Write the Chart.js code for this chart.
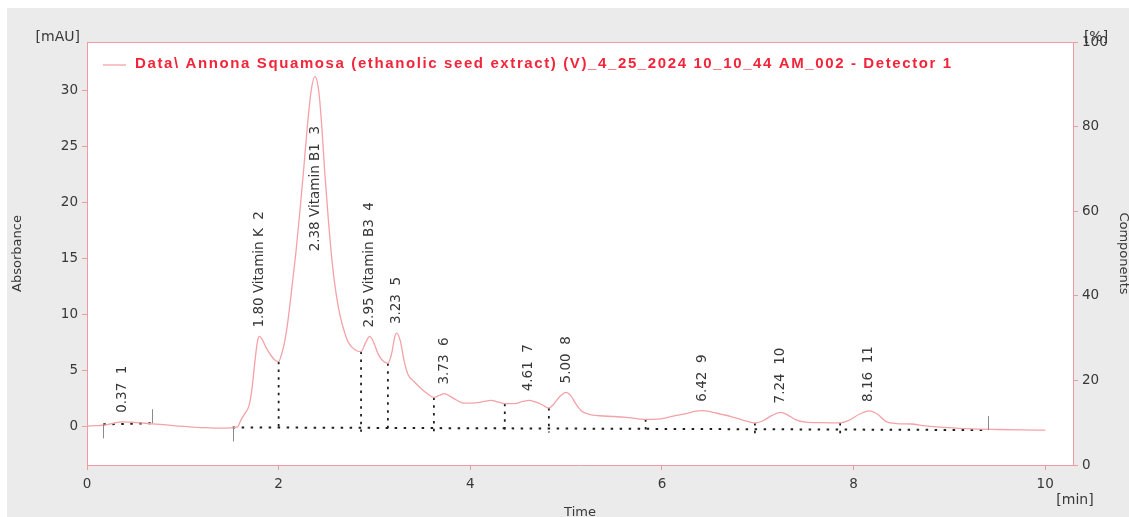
<!DOCTYPE html>
<html>
<head>
<meta charset="utf-8">
<script src="https://cdn.jsdelivr.net/npm/chart.js@4.4.1/dist/chart.umd.min.js"></script>
<style>
  html, body { margin: 0; padding: 0; background: #ffffff; }
  #wrap { width: 1129px; height: 517px; position: relative; }
</style>
</head>
<body>
<div id="wrap"><canvas id="chrom" width="1129" height="517"></canvas></div>
<script>
// Chromatogram trace: retention time [min] and detector signal [mAU]
const timeMin = [
  0.00, 0.10, 0.20, 0.28, 0.37, 0.46, 0.56, 0.68, 0.80, 0.95,
  1.10, 1.25, 1.40, 1.52, 1.57, 1.61, 1.65, 1.69, 1.72, 1.75,
  1.78, 1.80, 1.83, 1.87, 1.92, 1.96, 2.00, 2.03, 2.06, 2.10,
  2.14, 2.18, 2.22, 2.26, 2.30, 2.34, 2.38, 2.42, 2.45, 2.48,
  2.52, 2.56, 2.60, 2.64, 2.68, 2.72, 2.77, 2.82, 2.86, 2.91,
  2.95, 2.99, 3.04, 3.09, 3.14, 3.18, 3.21, 3.23, 3.27, 3.31,
  3.35, 3.41, 3.48, 3.55, 3.62, 3.68, 3.73, 3.79, 3.86, 3.93,
  4.02, 4.12, 4.22, 4.29, 4.36, 4.46, 4.55, 4.61, 4.68, 4.75,
  4.82, 4.87, 4.93, 5.00, 5.05, 5.10, 5.16, 5.24, 5.35, 5.50,
  5.65, 5.83, 5.95, 6.05, 6.15, 6.25, 6.34, 6.42, 6.52, 6.62,
  6.72, 6.82, 6.92, 6.97, 7.05, 7.15, 7.24, 7.31, 7.40, 7.50,
  7.65, 7.86, 7.95, 8.06, 8.16, 8.25, 8.34, 8.45, 8.60, 8.75,
  8.90, 9.10, 9.30, 9.50, 9.75, 10.00
];
const absorbance = [
  0.00, 0.03, 0.10, 0.25, 0.38, 0.34, 0.28, 0.20, 0.12, 0.00,
  -0.10, -0.15, -0.18, -0.15, -0.08, 0.60, 1.15, 1.80, 3.20, 5.60,
  7.60, 8.00, 7.70, 7.00, 6.30, 5.90, 5.75, 6.40, 7.40, 9.60,
  12.50, 15.50, 19.00, 22.80, 26.80, 30.00, 31.20, 29.80, 26.80, 22.80,
  18.30, 14.50, 11.80, 9.90, 8.60, 7.60, 7.00, 6.70, 6.65, 7.50,
  8.00, 7.50, 6.40, 5.80, 5.60, 6.50, 7.90, 8.30, 7.60, 5.80,
  4.60, 4.00, 3.40, 2.90, 2.55, 2.75, 2.90, 2.65, 2.30, 2.05,
  2.05, 2.15, 2.30, 2.15, 2.00, 2.00, 2.20, 2.30, 2.15, 1.90,
  1.60, 1.95, 2.60, 3.00, 2.70, 2.00, 1.35, 1.05, 0.92, 0.85,
  0.75, 0.60, 0.62, 0.75, 0.95, 1.10, 1.30, 1.37, 1.25, 1.05,
  0.85, 0.60, 0.35, 0.27, 0.45, 0.95, 1.22, 1.00, 0.55, 0.35,
  0.30, 0.28, 0.50, 1.05, 1.35, 1.05, 0.40, 0.22, 0.18, 0.02,
  -0.10, -0.20, -0.27, -0.31, -0.35, -0.37
];

// Integrated peaks
const peakTimes   = [0.37, 1.80, 2.38, 2.95, 3.23, 3.73, 4.61, 5.00, 6.42, 7.24, 8.16];
const peakNames   = ['', 'Vitamin K', 'Vitamin B1', 'Vitamin B3', '', '', '', '', '', '', ''];
const peakNumbers = [1, 2, 3, 4, 5, 6, 7, 8, 9, 10, 11];

// Integration baselines [start min, start mAU, end min, end mAU]
const baselineA = [0.17, 0.15, 0.68, 0.25];
const baselineB = [1.52, -0.12, 9.40, -0.36];
// Peak separation drop lines [min]
const dropTimes = [2.00, 2.86, 3.14, 3.62, 4.36, 4.82, 5.83, 6.97, 7.86];

// Axis ticks
const timeTicks = [0, 2, 4, 6, 8, 10];
const mauTicks = [0, 5, 10, 15, 20, 25, 30];
const percentTicks = [0, 20, 40, 60, 80, 100];

const legendText = 'Data\\ Annona Squamosa (ethanolic seed extract) (V)_4_25_2024 10_10_44 AM_002 - Detector 1';

const TRACE = '#f4a2a8';
const FRAME = '#f19aa2';
const INK = '#383838';
const FONT = '"DejaVu Sans", Verdana, sans-serif';
const LEGEND_X = 135, LEGEND_END = 953;

function signalAt(t) {
  for (let i = 1; i < timeMin.length; i++) {
    if (t <= timeMin[i]) {
      const f = (t - timeMin[i - 1]) / (timeMin[i] - timeMin[i - 1]);
      return absorbance[i - 1] + f * (absorbance[i] - absorbance[i - 1]);
    }
  }
  return absorbance[absorbance.length - 1];
}
function baselineAt(b, t) {
  return b[1] + (t - b[0]) / (b[2] - b[0]) * (b[3] - b[1]);
}

const traceData = timeMin.map((t, i) => ({ x: t, y: absorbance[i] }));
const baseAData = [{ x: baselineA[0], y: baselineA[1] }, { x: baselineA[2], y: baselineA[3] }];
const baseBData = [{ x: baselineB[0], y: baselineB[1] }, { x: baselineB[2], y: baselineB[3] }];
const dropData = [];
dropTimes.forEach(t => {
  dropData.push({ x: t, y: signalAt(t) });
  dropData.push({ x: t, y: baselineAt(baselineB, t) - 0.35 });
  dropData.push({ x: t, y: null });
});

// Background, frame, legend, unit captions, integration marks and peak labels
const decorations = {
  id: 'decorations',
  beforeDraw(chart) {
    const { ctx, chartArea: a } = chart;
    ctx.save();
    ctx.fillStyle = '#ffffff';
    ctx.fillRect(0, 0, chart.width, chart.height);
    ctx.fillStyle = '#ebebeb';
    ctx.fillRect(7, 8, chart.width - 7, chart.height - 8);
    ctx.fillStyle = '#ffffff';
    ctx.fillRect(a.left, a.top, a.right - a.left, a.bottom - a.top);
    ctx.restore();
  },
  afterDatasetsDraw(chart) {
    const { ctx, chartArea: a, scales } = chart;
    const xs = scales.x, ys = scales.y;
    ctx.save();

    // top edge of the frame
    ctx.strokeStyle = FRAME;
    ctx.lineWidth = 1;
    ctx.beginPath();
    ctx.moveTo(a.left, a.top + 0.5);
    ctx.lineTo(a.right, a.top + 0.5);
    ctx.stroke();

    // integration start / end marks
    ctx.strokeStyle = '#8a8a8a';
    ctx.lineWidth = 1;
    const marks = [
      [baselineA[0], baselineA[1], 1], [baselineA[2], baselineA[3], -1],
      [baselineB[0], baselineB[1], 1], [baselineB[2], baselineB[3], -1]
    ];
    marks.forEach(([t, v, dir]) => {
      const px = Math.round(xs.getPixelForValue(t)) + 0.5;
      const py = ys.getPixelForValue(v);
      ctx.beginPath();
      ctx.moveTo(px, py);
      ctx.lineTo(px, py + dir * 14);
      ctx.stroke();
    });

    // legend
    ctx.strokeStyle = TRACE;
    ctx.lineWidth = 1.3;
    ctx.beginPath();
    ctx.moveTo(103, 65);
    ctx.lineTo(126, 65);
    ctx.stroke();
    ctx.fillStyle = '#f3253a';
    ctx.font = 'bold 15px "Liberation Sans", Arial, sans-serif';
    ctx.letterSpacing = '0px';
    const plain = ctx.measureText(legendText).width;
    ctx.letterSpacing = ((LEGEND_END - LEGEND_X - plain) / legendText.length).toFixed(2) + 'px';
    ctx.textAlign = 'left';
    ctx.textBaseline = 'middle';
    ctx.fillText(legendText, LEGEND_X, 64);
    ctx.letterSpacing = '0px';

    // peak labels
    ctx.fillStyle = INK;
    ctx.font = '13.5px ' + FONT;
    peakTimes.forEach((t, i) => {
      let top = -Infinity;
      timeMin.forEach((tt, j) => { if (Math.abs(tt - t) <= 0.05) top = Math.max(top, absorbance[j]); });
      const text = t.toFixed(2) + (peakNames[i] ? ' ' + peakNames[i] : '') + '  ' + peakNumbers[i];
      const w = ctx.measureText(text).width;
      const px = xs.getPixelForValue(t);
      let start = ys.getPixelForValue(top) - 9;
      if (start - w < a.top + 4) start = ys.getPixelForValue(top / 2);
      ctx.save();
      ctx.translate(px, start);
      ctx.rotate(-Math.PI / 2);
      ctx.textAlign = 'left';
      ctx.textBaseline = 'middle';
      ctx.fillText(text, 0, 0);
      ctx.restore();
    });

    // unit captions
    ctx.fillStyle = INK;
    ctx.font = '14px ' + FONT;
    ctx.textBaseline = 'middle';
    ctx.textAlign = 'right';
    ctx.fillText('[mAU]', 80, 37);
    ctx.textAlign = 'center';
    ctx.fillText('[%]', 1096, 37);
    ctx.fillText('[min]', 1075, 500);
    ctx.restore();
  }
};

const tickFont = { family: FONT, size: 13.5 };
const dotted = { borderColor: '#1e1e1e', borderWidth: 2, borderDash: [2.5, 6.5], pointRadius: 0, yAxisID: 'y' };

new Chart(document.getElementById('chrom'), {
  type: 'line',
  data: {
    datasets: [
      { label: legendText, data: traceData, borderColor: TRACE, borderWidth: 1.3,
        pointRadius: 0, cubicInterpolationMode: 'monotone', yAxisID: 'y' },
      Object.assign({ data: baseAData }, dotted),
      Object.assign({ data: baseBData }, dotted),
      Object.assign({ data: dropData, spanGaps: false }, dotted, { borderWidth: 1.8, borderDash: [2.5, 5.3] })
    ]
  },
  options: {
    responsive: false,
    animation: false,
    events: [],
    layout: { padding: { top: 42, left: 0, right: 0, bottom: 0 } },
    plugins: { legend: { display: false }, tooltip: { enabled: false } },
    scales: {
      x: {
        type: 'linear', position: 'bottom', min: 0, max: 10.29,
        afterBuildTicks(s) { s.ticks = timeTicks.map(v => ({ value: v })); },
        afterFit(s) { s.height = 52; },
        ticks: { color: INK, font: tickFont, padding: 6, maxRotation: 0 },
        grid: { drawOnChartArea: false, drawTicks: true, tickLength: 5, color: FRAME },
        border: { color: FRAME, width: 1 },
        title: { display: true, text: 'Time', color: INK, font: { family: FONT, size: 13 },
                 padding: { top: 0, bottom: -3 } }
      },
      y: {
        type: 'linear', position: 'left', min: -3.48, max: 34.3,
        afterBuildTicks(s) { s.ticks = mauTicks.map(v => ({ value: v })); },
        afterFit(s) { s.width = 87; },
        ticks: { color: INK, font: tickFont, padding: 4 },
        grid: { drawOnChartArea: false, drawTicks: true, tickLength: 5, color: FRAME },
        border: { color: FRAME, width: 1 },
        title: { display: true, text: 'Absorbance', color: INK, font: { family: FONT, size: 13 },
                 padding: { top: 10, bottom: 0 } }
      },
      y2: {
        type: 'linear', position: 'right', min: 0, max: 100,
        afterBuildTicks(s) { s.ticks = percentTicks.map(v => ({ value: v })); },
        afterFit(s) { s.width = 56; },
        ticks: { color: INK, font: tickFont, padding: 4 },
        grid: { drawOnChartArea: false, drawTicks: true, tickLength: 5, color: FRAME },
        border: { color: FRAME, width: 1 },
        title: { display: true, text: 'Components', color: INK, font: { family: FONT, size: 13 },
                 padding: { top: -2, bottom: 0 } }
      }
    }
  },
  plugins: [decorations]
});
</script>
</body>
</html>
